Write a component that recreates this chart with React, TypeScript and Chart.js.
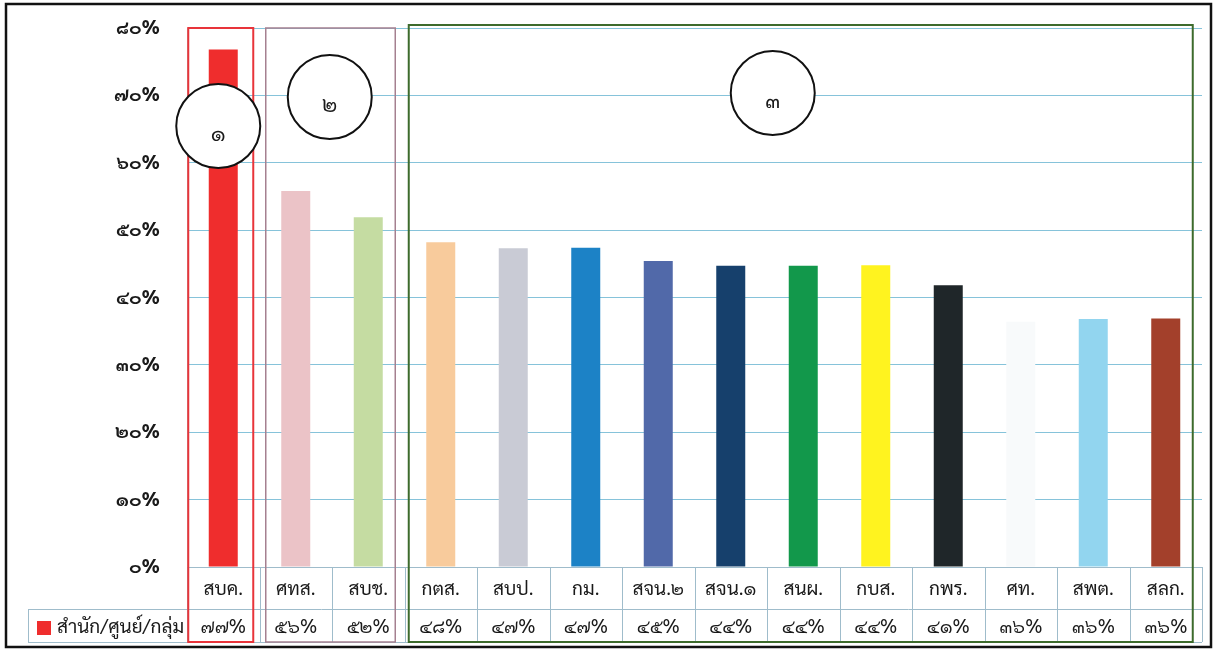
import React, { useEffect, useRef } from "react";
import { Chart, registerables } from "chart.js";

Chart.register(...registerables);

const categories = ["สบค.", "ศทส.", "สบช.", "กตส.", "สบป.", "กม.", "สจน.๒", "สจน.๑", "สนผ.", "กบส.", "กพร.", "ศท.", "สพต.", "สลก."];
const values = [76.8, 55.8, 51.9, 48.2, 47.3, 47.4, 45.4, 44.7, 44.7, 44.8, 41.8, 36.4, 36.8, 36.9];
const tableLabels = ["๗๗%", "๕๖%", "๕๒%", "๔๘%", "๔๗%", "๔๗%", "๔๕%", "๔๔%", "๔๔%", "๔๔%", "๔๑%", "๓๖%", "๓๖%", "๓๖%"];
const barColors = ["#ef2d2d", "#ebc3c7", "#c5dca2", "#f8cb9c", "#c9cbd5", "#1c82c6", "#5169a9", "#16406c", "#12984b", "#fff31f", "#1f2629", "#f8fafb", "#92d5ef", "#a3402b"];
const seriesName = "สำนัก/ศูนย์/กลุ่ม";
const groupLabels = ["๑", "๒", "๓"];
const yTicks = [0, 10, 20, 30, 40, 50, 60, 70, 80];

const thaiDigits = "๐๑๒๓๔๕๖๗๘๙";
const toThai = (n: number) => String(n).replace(/[0-9]/g, (d) => thaiDigits[Number(d)]);

const FONT = '"TH Sarabun New", "Sarabun", Tahoma, "Noto Sans Thai", "Noto Sans Thai UI", Loma, Garuda, "DejaVu Sans", sans-serif';

const overlay = {
  id: "overlay",
  afterDraw(chart: any) {
    const ctx = chart.ctx as CanvasRenderingContext2D;
    const x = chart.scales.x;
    const area = chart.chartArea;
    const n = categories.length;
    const step = (area.right - area.left) / n;
    const px = (i: number) => x.getPixelForValue(i);
    const axisY = area.bottom;
    const row1 = axisY + 42;
    const row2 = row1 + 33;
    const legendLeft = 28;

    ctx.save();
    // table lines
    ctx.strokeStyle = "#9fbccb";
    ctx.lineWidth = 1;
    ctx.beginPath();
    ctx.moveTo(area.left, axisY + 0.5);
    ctx.lineTo(area.right, axisY + 0.5);
    ctx.moveTo(legendLeft, row1 + 0.5);
    ctx.lineTo(area.right, row1 + 0.5);
    ctx.moveTo(legendLeft, row2 + 0.5);
    ctx.lineTo(area.right, row2 + 0.5);
    for (let i = 0; i <= n; i++) {
      const lx = Math.round(area.left + i * step) + 0.5;
      ctx.moveTo(lx, axisY);
      ctx.lineTo(lx, row2);
    }
    ctx.moveTo(legendLeft + 0.5, row1);
    ctx.lineTo(legendLeft + 0.5, row2);
    ctx.stroke();

    // table texts
    ctx.fillStyle = "#1a1a1a";
    ctx.textAlign = "center";
    ctx.textBaseline = "middle";
    ctx.font = `19px ${FONT}`;
    for (let i = 0; i < n; i++) {
      ctx.fillText(categories[i], px(i), (axisY + row1) / 2 + 1);
      ctx.fillText(tableLabels[i], px(i), (row1 + row2) / 2 + 1);
    }
    // legend
    ctx.fillStyle = barColors[0];
    ctx.fillRect(37, row1 + 12, 14, 14);
    ctx.fillStyle = "#1a1a1a";
    ctx.textAlign = "left";
    ctx.fillText(seriesName, 57, (row1 + row2) / 2 + 1);

    // group boxes
    const boxes = [
      { l: px(0) - 35, r: px(0) + 30, t: area.top, color: "#e8343a", w: 2 },
      { l: px(1) - 30, r: px(2) + 27, t: area.top, color: "#a58090", w: 1.5 },
      { l: px(3) - 32, r: px(13) + 27, t: area.top - 3, color: "#3d6b2c", w: 2 },
    ];
    boxes.forEach((b) => {
      ctx.strokeStyle = b.color;
      ctx.lineWidth = b.w;
      ctx.strokeRect(b.l, b.t, b.r - b.l, row2 - b.t);
    });

    // circles
    const circles = [
      { cx: px(0) - 5, cy: 126 },
      { cx: px(1) + 34, cy: 97 },
      { cx: px(7) + 42, cy: 93 },
    ];
    circles.forEach((c, i) => {
      ctx.beginPath();
      ctx.arc(c.cx, c.cy, 42, 0, Math.PI * 2);
      ctx.fillStyle = "#ffffff";
      ctx.fill();
      ctx.strokeStyle = "#111111";
      ctx.lineWidth = 2;
      ctx.stroke();
      ctx.fillStyle = "#1a1a1a";
      ctx.textAlign = "center";
      ctx.font = `22px ${FONT}`;
      ctx.fillText(groupLabels[i], c.cx, c.cy + 8);
    });

    // outer border
    ctx.strokeStyle = "#111111";
    ctx.lineWidth = 2.5;
    ctx.strokeRect(6, 4, 1205, 643);
    ctx.restore();
  },
};

export default function App() {
  const ref = useRef<HTMLCanvasElement | null>(null);
  useEffect(() => {
    document.body.style.margin = "0";
    const chart = new Chart(ref.current as HTMLCanvasElement, {
      type: "bar",
      data: {
        labels: categories,
        datasets: [
          {
            label: seriesName,
            data: values,
            backgroundColor: barColors,
            categoryPercentage: 1,
            barPercentage: 0.4,
          },
        ],
      },
      options: {
        animation: false,
        responsive: false,
        maintainAspectRatio: false,
        layout: { padding: { left: 0, right: 15, top: 28, bottom: 85 } },
        plugins: { legend: { display: false }, tooltip: { enabled: false } },
        scales: {
          x: { display: false },
          y: {
            min: 0,
            max: 80,
            afterFit: (s: any) => {
              s.width = 187;
            },
            afterBuildTicks: (s: any) => {
              s.ticks = yTicks.map((v) => ({ value: v }));
            },
            ticks: {
              padding: 0,
              color: "#1a1a1a",
              font: { size: 19, weight: "bold", family: FONT },
              callback: (v: any) => toThai(Number(v)) + "%",
            },
            grid: { color: "#86c3da", lineWidth: 1, drawTicks: true, tickLength: 27, tickColor: "rgba(0,0,0,0)" },
            border: { display: true, color: "#b9c9c6" },
          },
        },
      },
      plugins: [overlay],
    });
    return () => chart.destroy();
  }, []);
  return (
    <div style={{ width: 1217, height: 652, background: "#fff" }}>
      <canvas ref={ref} width={1217} height={652} style={{ display: "block" }} />
    </div>
  );
}
